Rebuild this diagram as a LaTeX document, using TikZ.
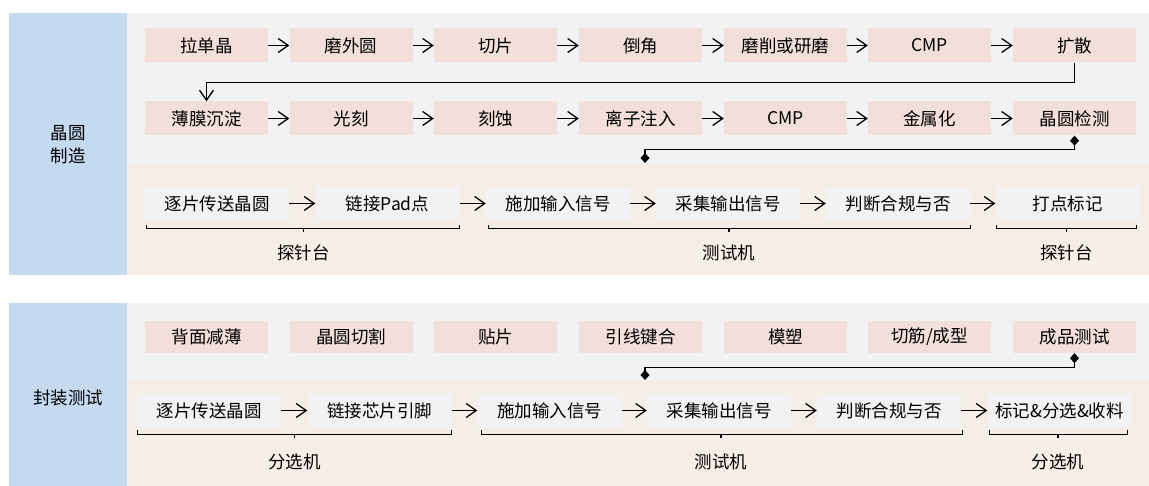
\documentclass[tikz,border=0pt]{standalone}
\usepackage{fontspec}
\setmainfont{Noto Sans CJK SC}
\usetikzlibrary{arrows.meta}

\definecolor{sideblue}{HTML}{C5D9F1}
\definecolor{panelgray}{HTML}{F2F2F2}
\definecolor{panelbeige}{HTML}{F5EEE6}
\definecolor{steppink}{HTML}{F2DFDA}

\begin{document}
\begin{tikzpicture}[x=1pt, y=-1pt,
  txt/.style={font=\fontsize{17.5}{20}\selectfont},
  pinkbox/.style={txt, fill=steppink, minimum width=123pt, minimum height=34pt, inner sep=0pt},
  graybox/.style={txt, fill=panelgray, minimum width=144pt, minimum height=33pt, inner sep=0pt},
  flow/.style={line width=1.3pt, -{Straight Barb[length=10pt,width=14pt]}},
  link/.style={line width=1.3pt, {Diamond[length=10pt,width=9pt]}-{Diamond[length=10pt,width=9pt]}},
  brace/.style={line width=1.3pt}]
\useasboundingbox (0,0) rectangle (1149,486);

% panels
\fill[sideblue] (9,13) rectangle (127,275);
\fill[panelgray] (127,13) rectangle (1149,163);
\fill[panelbeige] (127,163) rectangle (1149,275);
\fill[sideblue] (9,303) rectangle (127,486);
\fill[panelgray] (127,303) rectangle (1149,380);
\fill[panelbeige] (127,380) rectangle (1149,486);

\node[txt] (s1) at (68,133) {晶圆};
\node[txt] (s2) at (68,156) {制造};
\node[txt] (s3) at (68,398) {封装测试};

% wafer making
\node[pinkbox] (a1) at (206.5,45.5) {拉单晶};
\node[pinkbox] (a2) at (351,45.5) {磨外圆};
\node[pinkbox] (a3) at (495.5,45.5) {切片};
\node[pinkbox] (a4) at (640.5,45.5) {倒角};
\node[pinkbox] (a5) at (785.5,45.5) {磨削或研磨};
\node[pinkbox] (a6) at (929.5,45.5) {CMP};
\node[pinkbox] (a7) at (1074.5,45.5) {扩散};

\node[pinkbox] (b1) at (206.5,118.5) {薄膜沉淀};
\node[pinkbox] (b2) at (351,118.5) {光刻};
\node[pinkbox] (b3) at (495.5,118.5) {刻蚀};
\node[pinkbox] (b4) at (640.5,118.5) {离子注入};
\node[pinkbox] (b5) at (785.5,118.5) {CMP};
\node[pinkbox] (b6) at (929.5,118.5) {金属化};
\node[pinkbox] (b7) at (1074.5,118.5) {晶圆检测};

\draw[flow] (a1.east) -- (a2.west);
\draw[flow] (a2.east) -- (a3.west);
\draw[flow] (a3.east) -- (a4.west);
\draw[flow] (a4.east) -- (a5.west);
\draw[flow] (a5.east) -- (a6.west);
\draw[flow] (a6.east) -- (a7.west);
\draw[flow] (a7.south) -- ++(0,20) -| (b1.north);
\draw[flow] (b1.east) -- (b2.west);
\draw[flow] (b2.east) -- (b3.west);
\draw[flow] (b3.east) -- (b4.west);
\draw[flow] (b4.east) -- (b5.west);
\draw[flow] (b5.east) -- (b6.west);
\draw[flow] (b6.east) -- (b7.west);

\coordinate (j1) at (645,163);
\draw[link] (b7.south) -- ++(0,14) -| (j1);

% wafer probe
\node[graybox] (c1) at (217,203.5) {逐片传送晶圆};
\node[graybox] (c2) at (387.5,203.5) {链接Pad点};
\node[graybox] (c3) at (558,203.5) {施加输入信号};
\node[graybox] (c4) at (728,203.5) {采集输出信号};
\node[graybox] (c5) at (898,203.5) {判断合规与否};
\node[graybox] (c6) at (1067.5,203.5) {打点标记};

\draw[flow] (c1.east) -- (c2.west);
\draw[flow] (c2.east) -- (c3.west);
\draw[flow] (c3.east) -- (c4.west);
\draw[flow] (c4.east) -- (c5.west);
\draw[flow] (c5.east) -- (c6.west);

\node[txt] (l1) at (303.5,253) {探针台};
\node[txt] (l2) at (729,253) {测试机};
\node[txt] (l3) at (1066.5,253) {探针台};

\draw[brace] ([shift={(2,5)}]c1.south west) -- ++(0,3) -| ([shift={(0,5)}]c2.south east);
\draw[brace] ([shift={(3,5)}]c3.south west) -- ++(0,3) -| ([shift={(0,5)}]c5.south east);
\draw[brace] ([shift={(1,5)}]c6.south west) -- ++(0,3) -| ([shift={(-3,5)}]c6.south east);
\draw[brace] (l1) ++(0,-25) -- ++(0,4);
\draw[brace] (l2) ++(0,-25) -- ++(0,4);
\draw[brace] (l3) ++(0,-25) -- ++(0,4);

% packaging
\node[pinkbox, minimum height=32pt] (e1) at (206.5,337) {背面减薄};
\node[pinkbox, minimum height=32pt] (e2) at (351,337) {晶圆切割};
\node[pinkbox, minimum height=32pt] (e3) at (495.5,337) {贴片};
\node[pinkbox, minimum height=32pt] (e4) at (640.5,337) {引线键合};
\node[pinkbox, minimum height=32pt] (e5) at (785.5,337) {模塑};
\node[pinkbox, minimum height=32pt] (e6) at (929.5,337) {切筋/成型};
\node[pinkbox, minimum height=32pt] (e7) at (1074.5,337) {成品测试};

\coordinate (j2) at (645,380);
\draw[link] (e7.south) -- ++(0,14) -| (j2);

% final test
\node[graybox] (f1) at (209,410.5) {逐片传送晶圆};
\node[graybox] (f2) at (379.5,410.5) {链接芯片引脚};
\node[graybox] (f3) at (549.5,410.5) {施加输入信号};
\node[graybox] (f4) at (719,410.5) {采集输出信号};
\node[graybox] (f5) at (889,410.5) {判断合规与否};
\node[graybox] (f6) at (1059.5,410.5) {标记\&分选\&收料};

\draw[flow] (f1.east) -- (f2.west);
\draw[flow] (f2.east) -- (f3.west);
\draw[flow] (f3.east) -- (f4.west);
\draw[flow] (f4.east) -- (f5.west);
\draw[flow] (f5.east) -- (f6.west);

\node[txt] (m1) at (294.5,462) {分选机};
\node[txt] (m2) at (721,462) {测试机};
\node[txt] (m3) at (1058,462) {分选机};

\draw[brace] ([shift={(1,3)}]f1.south west) -- ++(0,4) -| ([shift={(0,3)}]f2.south east);
\draw[brace] ([shift={(4,3)}]f3.south west) -- ++(0,4) -| ([shift={(1,3)}]f5.south east);
\draw[brace] ([shift={(2,3)}]f6.south west) -- ++(0,4) -| ([shift={(-4,3)}]f6.south east);
\draw[brace] (m1) ++(0,-28) -- ++(0,4);
\draw[brace] (m2) ++(0,-28) -- ++(0,4);
\draw[brace] (m3) ++(0,-28) -- ++(0,4);
\end{tikzpicture}
\end{document}
